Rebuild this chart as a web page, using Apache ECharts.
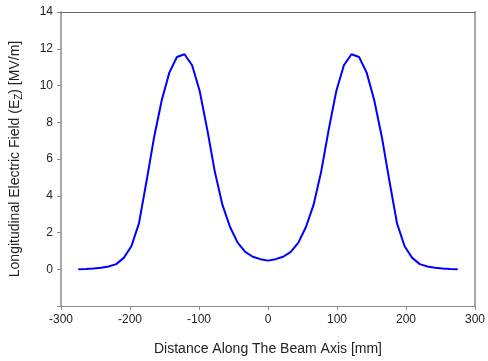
<!DOCTYPE html>
<html>
<head>
<meta charset="utf-8">
<script src="https://cdn.jsdelivr.net/npm/echarts@6/dist/echarts.min.js"></script>
<style>
html,body{margin:0;padding:0;background:#fff;}
#c{width:488px;height:361px;}
</style>
</head>
<body>
<div id="c"></div>
<script>
// Distance along beam axis [mm]
var distance = [-275,-264,-253,-242,-231,-220,-209,-198,-187,-176,-165,-154,-143,-132,-121,-110,-99,-88,-77,-66,-55,-44,-33,-22,-11,0,
  11,22,33,44,55,66,77,88,99,110,121,132,143,154,165,176,187,198,209,220,231,242,253,264,275];
// Longitudinal electric field Ez [MV/m]
var field = [0.00,0.01,0.04,0.08,0.15,0.28,0.62,1.25,2.50,4.80,7.20,9.20,10.70,11.55,11.70,11.10,9.70,7.60,5.30,3.50,2.30,1.45,0.95,0.68,0.55,0.47,
  0.55,0.68,0.95,1.45,2.30,3.50,5.30,7.60,9.70,11.10,11.70,11.55,10.70,9.20,7.20,4.80,2.50,1.25,0.62,0.28,0.15,0.08,0.04,0.01,0.00];
var xTicks = [-300,-200,-100,0,100,200,300];
var yTicks = [0,2,4,6,8,10,12,14];

var pts = distance.map(function(d,i){return [d, field[i]];});
var chart = echarts.init(document.getElementById('c'), null, {renderer:'canvas'});
var font = 'Liberation Sans, Arial, sans-serif';
chart.setOption({
  animation:false,
  backgroundColor:'#ffffff',
  grid:{left:61,right:8,top:12,bottom:55,containLabel:false},
  xAxis:[{
    type:'value',min:xTicks[0],max:xTicks[xTicks.length-1],interval:100,
    name:'Distance Along The Beam Axis [mm]',nameLocation:'middle',nameGap:36,
    nameTextStyle:{fontFamily:font,fontSize:14,color:'#222'},
    axisLine:{show:true,onZero:false,lineStyle:{color:'#8a8a8a',width:1}},
    axisTick:{show:true,length:4,lineStyle:{color:'#8a8a8a'}},
    axisLabel:{fontFamily:font,fontSize:12,color:'#222',margin:8,showMaxLabel:true,showMinLabel:true},
    splitLine:{show:false}
  },{
    type:'value',position:'top',min:xTicks[0],max:xTicks[xTicks.length-1],
    axisLine:{show:true,onZero:false,lineStyle:{color:'#6a6a6a',width:1}},
    axisTick:{show:false},axisLabel:{show:false},splitLine:{show:false}
  }],
  yAxis:[{
    type:'value',min:-2,max:14,interval:2,
    name:'Longitudinal Electric Field (E{sub|Z}) [MV/m]',nameLocation:'middle',nameGap:37,nameRotate:90,
    nameTextStyle:{fontFamily:font,fontSize:14,color:'#222',
      rich:{sub:{fontFamily:font,fontSize:10,color:'#222',padding:[8,0,0,0]}}},
    axisLine:{show:true,onZero:false,lineStyle:{color:'#a8a8a8',width:2}},
    axisTick:{show:true,length:4,lineStyle:{color:'#8a8a8a'}},
    axisLabel:{fontFamily:font,fontSize:12,color:'#222',margin:8,
      formatter:function(v){return yTicks.indexOf(v)>=0?String(v):'';}},
    splitLine:{show:false}
  },{
    type:'value',position:'right',min:-2,max:14,
    axisLine:{show:true,onZero:false,lineStyle:{color:'#a8a8a8',width:2}},
    axisTick:{show:false},axisLabel:{show:false},splitLine:{show:false}
  }],
  series:[{
    type:'line',data:pts,xAxisIndex:0,yAxisIndex:0,
    showSymbol:false,smooth:false,
    lineStyle:{color:'#0000ff',width:2},
    itemStyle:{color:'#0000ff'}
  }]
});
</script>
</body>
</html>
